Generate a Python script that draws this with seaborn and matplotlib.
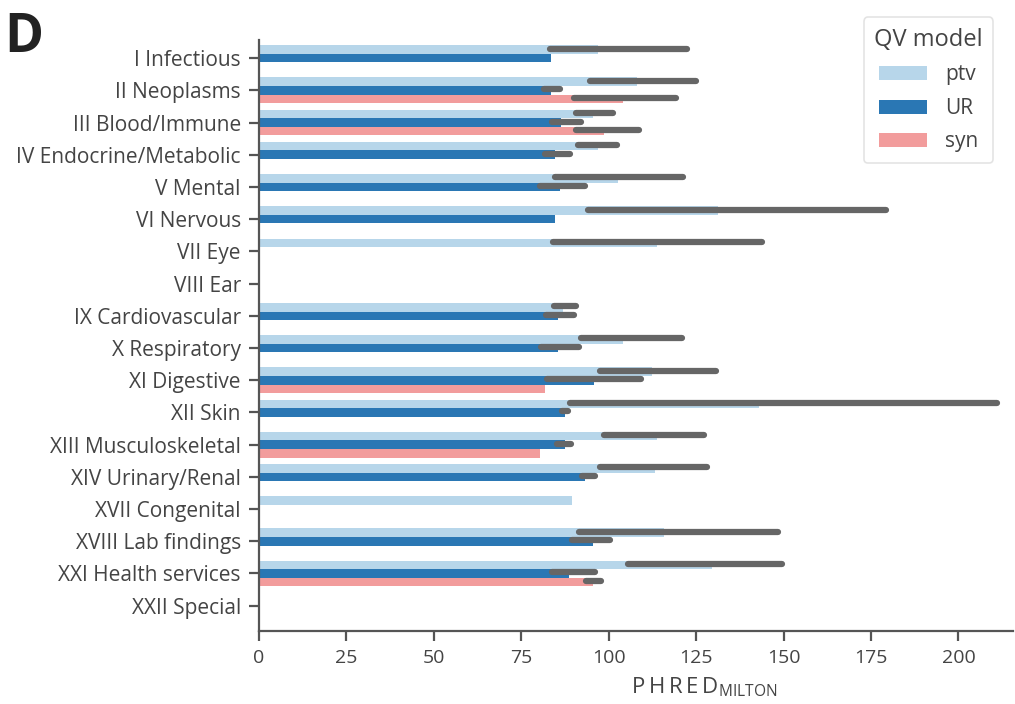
import numpy as np
import pandas as pd
import seaborn as sns
import matplotlib.pyplot as plt

nan = np.nan

categories = ['I Infectious', 'II Neoplasms', 'III Blood/Immune', 'IV Endocrine/Metabolic',
              'V Mental', 'VI Nervous', 'VII Eye', 'VIII Ear', 'IX Cardiovascular',
              'X Respiratory', 'XI Digestive', 'XII Skin', 'XIII Musculoskeletal',
              'XIV Urinary/Renal', 'XVII Congenital', 'XVIII Lab findings',
              'XXI Health services', 'XXII Special']
models = ['ptv', 'UR', 'syn']

ptv_mean = [97.0, 108.0, 95.6, 97.0, 102.7, 131.2, 113.9, nan, 87.0, 104.2, 112.3, 143.0,
            113.9, 113.2, 89.6, 115.9, 129.5, nan]
ptv_lo = [83.3, 94.6, 90.6, 91.3, 84.6, 94.1, 84.1, nan, 84.3, 92.2, 97.5, 88.9,
          98.6, 97.5, nan, 91.6, 105.4, nan]
ptv_hi = [122.5, 124.9, 101.3, 102.3, 121.3, 179.4, 143.8, nan, 90.8, 120.9, 130.7, 211.0,
          127.4, 128.0, nan, 148.4, 149.5, nan]

ur_mean = [83.5, 83.6, 86.5, 84.6, 86.0, 84.8, nan, nan, 85.6, 85.6, 95.9, 87.6,
           87.5, 93.2, nan, 95.4, 88.6, nan]
ur_lo = [nan, 81.6, 83.7, 81.7, 80.3, nan, nan, nan, 82.2, 80.6, 82.5, 86.8,
         85.3, 92.5, nan, 89.4, 83.7, nan]
ur_hi = [nan, 86.0, 92.1, 88.9, 93.2, nan, nan, nan, 90.0, 91.6, 109.4, 88.4,
         89.2, 96.2, nan, 100.5, 96.1, nan]

syn_mean = [nan, 104.2, 98.7, nan, nan, nan, nan, nan, nan, nan, 81.7, nan,
            80.5, nan, nan, nan, 95.6, nan]
syn_lo = [nan, 90.1, 90.6, nan, nan, nan, nan, nan, nan, nan, nan, nan,
          nan, nan, nan, nan, 93.5, nan]
syn_hi = [nan, 119.2, 108.7, nan, nan, nan, nan, nan, nan, nan, nan, nan,
          nan, nan, nan, nan, 97.7, nan]

colors = {'ptv': '#b7d6ea', 'UR': '#2a77b4', 'syn': '#f29c9c'}
ink = '#444444'

means = {'ptv': ptv_mean, 'UR': ur_mean, 'syn': syn_mean}
lows = {'ptv': ptv_lo, 'UR': ur_lo, 'syn': syn_lo}
highs = {'ptv': ptv_hi, 'UR': ur_hi, 'syn': syn_hi}

rows = []
for m in models:
    for c, v in zip(categories, means[m]):
        rows.append({'category': c, 'model': m, 'value': v})
df = pd.DataFrame(rows)

sns.set_style('ticks')
plt.rcParams['font.family'] = ['Open Sans', 'DejaVu Sans']

fig = plt.figure(figsize=(10.15, 7.04), dpi=100)
ax = fig.add_axes([0.255, 0.104, 0.743, 0.839])

sns.barplot(data=df, y='category', x='value', hue='model', order=categories,
            hue_order=models, palette=colors, errorbar=None, orient='h',
            width=0.8, saturation=1, linewidth=0, ax=ax)

# error bars drawn at the dodged positions
w = 0.8 / len(models)
for j, m in enumerate(models):
    off = -0.4 + w * (j + 0.5)
    for i in range(len(categories)):
        lo, hi = lows[m][i], highs[m][i]
        if np.isnan(lo):
            continue
        ax.hlines(i + off - 0.03, lo, hi, color='#666666', lw=4.5, capstyle='round', zorder=5)

ax.set_xlim(0, 215.6)
ax.set_ylim(17.78, -0.56)
ax.set_xticks(range(0, 201, 25))
ax.set_ylabel('')
sp = '\u2009'
ax.set_xlabel(sp.join('PHRED') + r'$_{\mathregular{MILTON}}$', fontsize=16, color=ink)
ax.xaxis.set_label_coords(0.59, -0.075)

sns.despine(ax=ax)
for s in ['left', 'bottom']:
    ax.spines[s].set_linewidth(1.6)
    ax.spines[s].set_color('#555555')
ax.tick_params(axis='both', length=7, width=1.6, color='#555555', labelcolor=ink)
ax.tick_params(axis='y', labelsize=15, pad=6)
ax.tick_params(axis='x', labelsize=14, pad=6)

leg = ax.legend(title='QV model', loc='upper right', bbox_to_anchor=(0.989, 0.99),
                bbox_transform=fig.transFigure, fontsize=15, title_fontsize=17,
                handlelength=2.3, handleheight=0.65, handletextpad=0.9,
                labelspacing=0.6, borderpad=0.5, frameon=True)
leg.get_frame().set_edgecolor('#dddddd')
leg.get_frame().set_linewidth(1.2)
for t in leg.get_texts():
    t.set_color(ink)
leg.get_title().set_color(ink)

fig.text(0.004, 0.985, 'D', fontsize=38, fontweight='bold', color='#222222', va='top', ha='left')

fig.savefig('out.png', dpi=100)
